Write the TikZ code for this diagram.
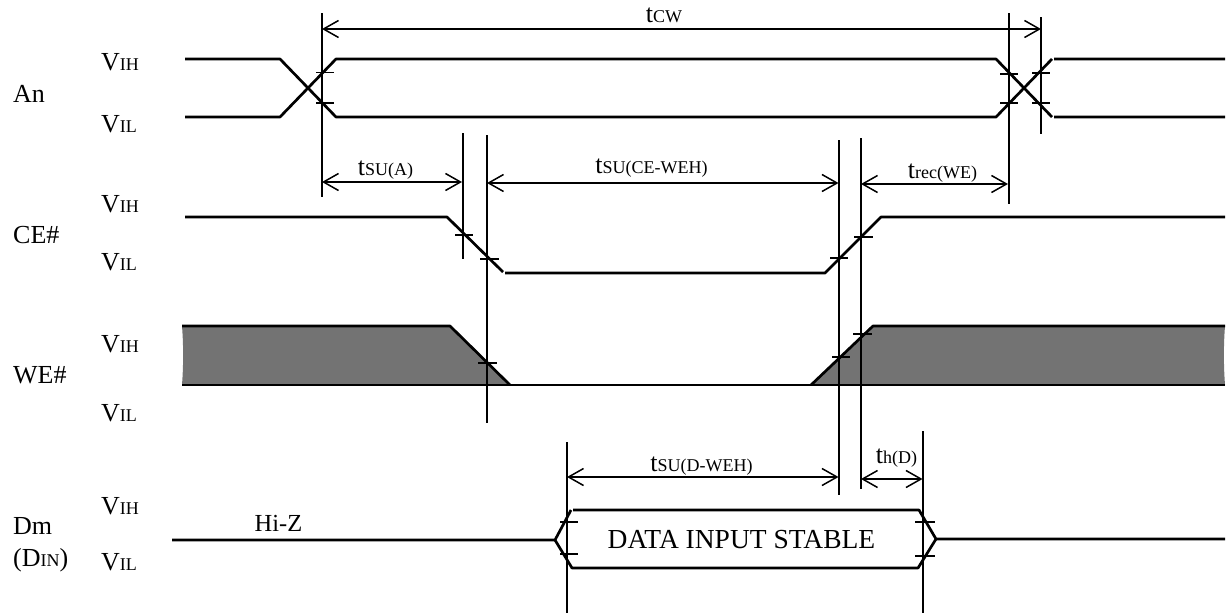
\documentclass[tikz,border=0pt]{standalone}
\usepackage{fontspec}
\setmainfont{Liberation Serif}
\usetikzlibrary{arrows.meta}
\newcommand{\smf}[1]{{\fontsize{18}{20}\selectfont #1}}
\newcommand{\tlabel}[1]{t\smf{#1}}
\tikzset{
  lbl/.style={inner sep=0pt,anchor=base west,font=\fontsize{26}{28}\selectfont,text=black},
  clbl/.style={inner sep=0pt,anchor=base,font=\fontsize{26}{28}\selectfont,text=black},
  sig/.style={line width=2.7pt,black,line join=round},
  guide/.style={line width=1.8pt,black},
  tick/.style={line width=1.3pt,black},
  dim/.style={line width=1.5pt,black,{Straight Barb[length=15pt,width=17pt,line width=1.5pt]}-{Straight Barb[length=15pt,width=17pt,line width=1.5pt]}}
}
\begin{document}
\begin{tikzpicture}[x=1pt,y=-1pt]
\useasboundingbox (0,0) rectangle (1230,613);
% WE# fill
\fill[fill=black!55] (182,326) .. controls (183.5,345) and (183.5,365) .. (182,385) -- (510,385) -- (450,326) -- cycle;
\fill[fill=black!55] (811,385) -- (873,326) -- (1225,326) .. controls (1223.5,345) and (1223.5,365) .. (1225,385) -- cycle;
% An
\draw[sig] (185,59) -- (280,59) -- (336,117) -- (996,117) -- (1052,59) (1054,59) -- (1225,59);
\draw[sig] (185,117) -- (280,117) -- (336,59) -- (996,59) -- (1052,117) (1054,117) -- (1225,117);
% CE#
\draw[sig] (185,217) -- (447,217) -- (503,272) (505,273) -- (825,273) -- (881,217) -- (1225,217);
% WE#
\draw[sig] (182,326) -- (450,326) -- (510,385);
\draw[sig] (182,385) -- (1225,385);
\draw[sig] (811,385) -- (873,326) -- (1225,326);
% Dm
\draw[sig] (172,540) -- (555,540) -- (571,510) (573,510) -- (919,510) -- (936,539) -- (1225,539);
\draw[sig] (555,540) -- (572,568) -- (918,568) -- (936,539);
% guides
\draw[guide] (322,13) -- (322,197);
\draw[guide] (1009,13) -- (1009,204);
\draw[guide] (1041,17) -- (1041,134);
\draw[guide] (463,133) -- (463,259);
\draw[guide] (487,135) -- (487,423);
\draw[guide] (839,140) -- (839,495);
\draw[guide] (861,138) -- (861,489);
\draw[guide] (567,442) -- (567,613);
\draw[guide] (923,431) -- (923,613);
% ticks
\foreach \xa/\xb/\yy in {316/334/72.5,316/334/103,1000/1018/74,1000/1018/103,1032/1050/73,1032/1050/103,
  455/473/235,480/499/259,830/848/258,854/873/237,
  478/497/363,832/850/357,853/872/334,
  560/578/522,560/578/554,915/935/522,915/935/556}
  \draw[tick] (\xa,\yy) -- (\xb,\yy);
% dimension arrows
\coordinate (cwa) at (322,29); \coordinate (cwb) at (1041,29);
\coordinate (aa) at (322,182); \coordinate (ab) at (462,182);
\coordinate (cea) at (487,183); \coordinate (ceb) at (838.5,183);
\coordinate (reca) at (861,184); \coordinate (recb) at (1008,184);
\coordinate (da) at (567,477); \coordinate (db) at (838.5,477);
\coordinate (ha) at (861,479); \coordinate (hb) at (922.5,479);
\draw[dim] (cwa) -- (cwb);
\draw[dim] (aa) -- (ab);
\draw[dim] (cea) -- (ceb);
\draw[dim] (reca) -- (recb);
\draw[dim] (da) -- (db);
\draw[dim] (ha) -- (hb);
% time labels
\node[clbl] (tcw) at (664,22) {\tlabel{CW}};
\node[clbl] (tsua) at (385.5,175) {\tlabel{SU(A)}};
\node[clbl] (tsuce) at (651.5,173) {\tlabel{SU(CE-WEH)}};
\node[clbl] (trec) at (942.5,178) {\tlabel{rec(WE)}};
\node[clbl] (tsud) at (701.5,471) {\tlabel{SU(D-WEH)}};
\node[clbl] (thd) at (896.5,463) {\tlabel{h(D)}};
\node[clbl] (hiz) at (278.5,531) {\fontsize{24.5}{26}\selectfont Hi-Z};
\node[clbl] (data) at (741.5,548) {\fontsize{27.5}{29}\selectfont DATA INPUT STABLE};
% level labels
\node[lbl] (v1) at (101,70) {V\smf{IH}};
\node[lbl] (v2) at (101,132) {V\smf{IL}};
\node[lbl] (v3) at (101,212) {V\smf{IH}};
\node[lbl] (v4) at (101,270) {V\smf{IL}};
\node[lbl] (v5) at (101,352) {V\smf{IH}};
\node[lbl] (v6) at (101,421) {V\smf{IL}};
\node[lbl] (v7) at (101,514) {V\smf{IH}};
\node[lbl] (v8) at (101,570) {V\smf{IL}};
% signal names
\node[lbl] (an) at (13,102) {An};
\node[lbl] (ce) at (13,243) {CE\#};
\node[lbl] (we) at (13,383) {WE\#};
\node[lbl] (dm) at (13,534) {Dm};
\node[lbl] (din) at (13,566) {(D\smf{IN})};
\end{tikzpicture}
\end{document}
